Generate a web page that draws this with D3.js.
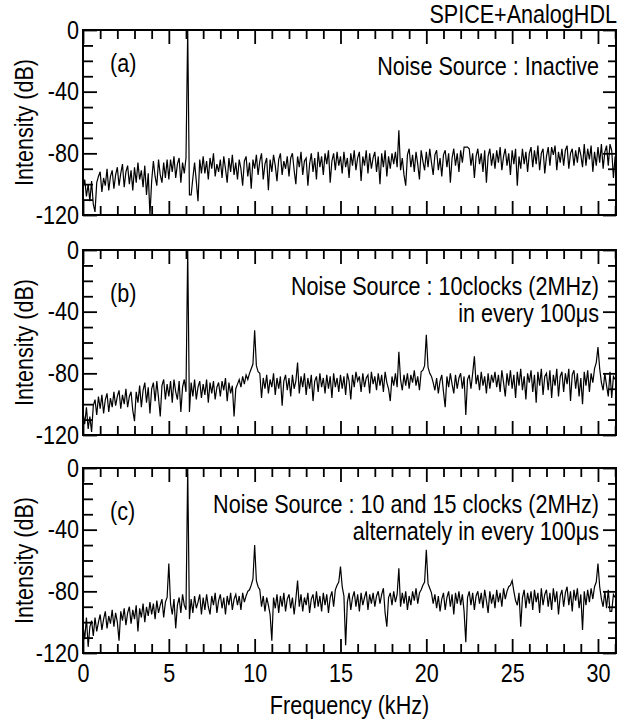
<!DOCTYPE html>
<html>
<head>
<meta charset="utf-8">
<script src="https://cdn.jsdelivr.net/npm/d3@7"></script>
<style>
  body { margin: 0; background: #fff; }
  svg text { font-family: "Liberation Sans", Arial, sans-serif; font-size: 26px; fill: #000; }
</style>
</head>
<body>
<div id="chart"></div>
<script>
/* global d3 */

// FFT bin spacing (kHz); value i of each spectrum sits at i * binWidth
var binWidth = 0.1;

var panelNames = ["(a)", "(b)", "(c)"];
var panelNotes = [
  ["Noise Source : Inactive"],
  ["Noise Source : 10clocks (2MHz)", "in every 100\u03bcs"],
  ["Noise Source : 10 and 15 clocks (2MHz)", "alternately in every 100\u03bcs"]
];
var xTickValues = [0, 5, 10, 15, 20, 25, 30];
var yTickValues = [0, -40, -80, -120];

// (a) noise source inactive, dB
var specA = [
  -102, -97, -108, -100, -111, -98, -113, -118, -99, -95,
  -92, -105, -96, -101, -90, -104, -95, -91, -103, -94,
  -89, -101, -93, -87, -102, -92, -88, -100, -91, -104,
  -89, -99, -86, -97, -91, -102, -88, -107, -93, -120,
  -98, -85, -95, -101, -84, -94, -99, -86, -96, -84,
  -97, -84, -92, -82, -96, -87, -83, -99, -86, -93,
  -83, 0, -107, -107, -96, -86, -98, -111, -84, -93,
  -82, -93, -85, -97, -83, -90, -80, -95, -87, -92,
  -84, -96, -82, -90, -99, -83, -92, -81, -94, -86,
  -97, -84, -90, -101, -85, -82, -95, -86, -103, -84,
  -90, -81, -94, -85, -80, -97, -87, -83, -104, -84,
  -92, -81, -88, -98, -84, -80, -94, -85, -90, -82,
  -95, -83, -80, -91, -100, -82, -89, -79, -94, -85,
  -83, -101, -87, -80, -92, -83, -97, -79, -89, -82,
  -94, -80, -87, -78, -99, -85, -80, -91, -79, -88,
  -82, -93, -79, -89, -83, -96, -80, -88, -78, -91,
  -83, -79, -98, -82, -88, -78, -93, -80, -90, -83,
  -79, -92, -82, -100, -80, -89, -78, -95, -82, -90,
  -80, -87, -79, -89, -65, -91, -83, -94, -101, -81,
  -77, -89, -81, -92, -79, -87, -97, -78, -85, -91,
  -79, -89, -77, -86, -94, -81, -78, -91, -83, -95,
  -81, -78, -89, -80, -99, -83, -77, -88, -80, -92,
  -78, -86, -76, -76, -76, -77, -88, -80, -96, -82,
  -77, -87, -80, -92, -78, -99, -82, -77, -88, -80,
  -90, -78, -86, -76, -91, -82, -77, -88, -80, -94,
  -78, -87, -77, -101, -82, -90, -77, -87, -79, -92,
  -80, -76, -89, -78, -87, -75, -91, -80, -77, -93,
  -82, -76, -88, -76, -81, -75, -91, -79, -86, -77,
  -88, -78, -75, -90, -80, -77, -88, -78, -86, -76,
  -81, -89, -74, -88, -77, -84, -75, -92, -79, -88,
  -76, -86, -74, -90, -79, -75, -88, -74, -78, -96,
  -82
];

// (b) 10 clocks every 100us, dB
var specB = [
  -105, -113, -102, -116, -108, -118, -101, -97, -107, -95,
  -103, -94, -106, -97, -93, -105, -96, -102, -92, -101,
  -95, -91, -103, -94, -100, -90, -102, -95, -92, -104,
  -111, -92, -99, -88, -102, -91, -86, -99, -89, -106,
  -90, -86, -98, -85, -96, -108, -88, -84, -97, -87,
  -95, -85, -99, -84, -92, -97, -85, -105, -89, -84,
  -92, 0, -105, -86, -95, -84, -97, -89, -85, -96,
  -87, -94, -84, -99, -86, -93, -85, -97, -89, -86,
  -95, -85, -91, -83, -98, -86, -93, -88, -108, -90,
  -87, -84, -89, -82, -87, -81, -84, -80, -77, -74,
  -52, -75, -79, -80, -96, -83, -90, -81, -93, -84,
  -89, -80, -94, -83, -90, -82, -101, -85, -81, -91,
  -83, -95, -81, -90, -85, -73, -93, -82, -89, -80,
  -94, -83, -90, -81, -98, -85, -82, -92, -80, -89,
  -83, -93, -81, -90, -82, -96, -80, -89, -83, -92,
  -81, -90, -82, -94, -80, -85, -97, -81, -89, -79,
  -85, -82, -92, -80, -89, -83, -81, -93, -79, -87,
  -82, -91, -80, -88, -81, -92, -79, -86, -90, -98,
  -82, -88, -80, -89, -66, -84, -91, -81, -88, -80,
  -90, -81, -86, -78, -88, -82, -91, -79, -78, -75,
  -55, -76, -80, -82, -86, -91, -83, -93, -85, -81,
  -92, -102, -82, -89, -80, -87, -93, -81, -90, -83,
  -80, -90, -82, -107, -84, -81, -90, -80, -69, -87,
  -81, -91, -79, -88, -82, -93, -80, -90, -81, -86,
  -79, -89, -81, -92, -78, -86, -95, -80, -88, -78,
  -90, -81, -96, -79, -88, -77, -91, -82, -97, -80,
  -86, -78, -92, -81, -99, -79, -88, -77, -94, -82,
  -80, -91, -78, -96, -81, -88, -77, -95, -82, -79,
  -92, -80, -87, -77, -98, -81, -78, -90, -80, -95,
  -83, -100, -79, -88, -78, -92, -80, -86, -77, -73,
  -63, -77, -86, -91, -80, -88, -95, -79, -96, -82,
  -84
];

// (c) 10 and 15 clocks alternately, dB
var specC = [
  -102, -111, -97, -116, -103, -99, -109, -97, -106, -100,
  -95, -105, -98, -93, -104, -96, -101, -92, -103, -94,
  -100, -112, -93, -99, -91, -102, -94, -90, -101, -92,
  -98, -89, -106, -91, -97, -88, -100, -90, -96, -87,
  -95, -88, -98, -86, -94, -89, -85, -97, -87, -84,
  -62, -88, -95, -85, -104, -89, -84, -94, -82, -89,
  -92, 0, -98, -85, -94, -83, -91, -87, -82, -95,
  -84, -92, -82, -90, -95, -83, -89, -81, -94, -86,
  -82, -91, -84, -95, -83, -89, -81, -92, -85, -82,
  -89, -83, -92, -81, -87, -83, -80, -79, -76, -72,
  -50, -73, -77, -79, -90, -83, -93, -84, -89, -95,
  -112, -84, -91, -82, -94, -83, -90, -81, -93, -85,
  -82, -91, -84, -95, -85, -73, -90, -82, -93, -84,
  -89, -81, -94, -85, -82, -91, -80, -90, -83, -93,
  -81, -89, -82, -94, -84, -80, -90, -79, -76, -74,
  -64, -77, -83, -115, -87, -81, -92, -84, -80, -90,
  -82, -93, -81, -89, -84, -80, -92, -82, -88, -81,
  -90, -83, -80, -88, -82, -78, -94, -103, -84, -81,
  -89, -80, -87, -82, -65, -90, -81, -88, -80, -92,
  -83, -89, -80, -86, -78, -88, -81, -79, -76, -74,
  -53, -75, -78, -81, -88, -82, -91, -83, -93, -85,
  -81, -92, -84, -80, -90, -82, -95, -81, -88, -80,
  -89, -82, -93, -113, -84, -80, -89, -81, -92, -83,
  -80, -88, -81, -91, -79, -86, -94, -80, -88, -82,
  -91, -79, -87, -81, -90, -78, -85, -80, -77, -76,
  -73, -80, -86, -89, -81, -103, -84, -79, -91, -81,
  -88, -80, -92, -79, -87, -81, -94, -78, -89, -82,
  -79, -90, -81, -92, -78, -87, -80, -95, -83, -79,
  -90, -81, -77, -89, -80, -93, -79, -86, -78, -91,
  -82, -105, -80, -89, -79, -87, -78, -85, -77, -74,
  -62, -77, -85, -90, -80, -91, -79, -93, -93, -82,
  -84
];

var spectra = [specA, specB, specC];

// layout
var plotLeft = 83, plotRight = 616;
var panelTop = [30, 250, 468];
var panelHeight = 185;
// the original lettering is a condensed sans; squeeze a regular one horizontally
var squeeze = 0.83;

var svg = d3.select("#chart").append("svg")
    .attr("width", 633)
    .attr("height", 725);

var x = d3.scaleLinear()
    .domain([0, 31.05])
    .range([plotLeft, plotRight]);

var xMinor = d3.range(0, 32).filter(function(v) { return v % 5 !== 0; });
var yMinor = d3.range(-110, 0, 10).filter(function(v) { return v % 40 !== 0; });

function addText(parent, tx, ty, str, anchor, rotate) {
  return parent.append("text")
      .attr("transform", "translate(" + tx + "," + ty + ")" + (rotate ? " rotate(-90)" : "") +
            " scale(" + squeeze + ",1)")
      .attr("text-anchor", anchor)
      .text(str);
}

// draws an axis with inward ticks only and no domain line
function tickAxis(g, axis) {
  g.call(axis);
  g.select(".domain").remove();
  g.selectAll(".tick line").attr("stroke", "#000").attr("stroke-width", 1.8);
  g.selectAll(".tick text")
      .attr("font-family", null)
      .attr("font-size", null)
      .attr("fill", "#000")
      .each(function() {
        var t = d3.select(this);
        var tx = +t.attr("x") || 0, ty = +t.attr("y") || 0;
        t.attr("transform", "translate(" + tx + "," + ty + ") scale(" + squeeze + ",1)")
          .attr("x", 0).attr("y", 0);
      });
  g.attr("font-family", null).attr("font-size", null);
}

spectra.forEach(function(values, k) {
  var top = panelTop[k];
  var bottom = top + panelHeight;

  var y = d3.scaleLinear()
      .domain([-120, 0])
      .range([bottom, top]);

  var g = svg.append("g");

  g.append("clipPath")
      .attr("id", "clip" + k)
    .append("rect")
      .attr("x", plotLeft)
      .attr("y", top)
      .attr("width", plotRight - plotLeft)
      .attr("height", panelHeight);

  var line = d3.line()
      .x(function(d, i) { return x(i * binWidth); })
      .y(function(d) { return y(d); });

  g.append("path")
      .datum(values)
      .attr("clip-path", "url(#clip" + k + ")")
      .attr("d", line)
      .attr("fill", "none")
      .attr("stroke", "#000")
      .attr("stroke-width", 1.2);

  // top ticks
  tickAxis(g.append("g").attr("transform", "translate(0," + top + ")"),
    d3.axisTop(x).tickValues(xMinor).tickSize(-9).tickFormat(""));
  tickAxis(g.append("g").attr("transform", "translate(0," + top + ")"),
    d3.axisTop(x).tickValues(xTickValues).tickSize(-14).tickFormat(""));

  // bottom ticks, labels only on the last panel
  tickAxis(g.append("g").attr("transform", "translate(0," + bottom + ")"),
    d3.axisBottom(x).tickValues(xMinor).tickSize(-9).tickFormat(""));
  var bottomMajor = d3.axisBottom(x).tickValues(xTickValues).tickSize(-14).tickPadding(11)
      .tickFormat(function(d) { return String(d); });
  if (k < spectra.length - 1) bottomMajor.tickFormat("");
  tickAxis(g.append("g").attr("transform", "translate(0," + bottom + ")"), bottomMajor);

  // left ticks with labels
  tickAxis(g.append("g").attr("transform", "translate(" + plotLeft + ",0)"),
    d3.axisLeft(y).tickValues(yMinor).tickSize(-10).tickFormat(""));
  tickAxis(g.append("g").attr("transform", "translate(" + plotLeft + ",0)"),
    d3.axisLeft(y).tickValues(yTickValues).tickSize(-14).tickPadding(4)
      .tickFormat(function(d) { return String(d); }));

  // right ticks
  tickAxis(g.append("g").attr("transform", "translate(" + plotRight + ",0)"),
    d3.axisRight(y).tickValues(yMinor).tickSize(-8).tickFormat(""));
  tickAxis(g.append("g").attr("transform", "translate(" + plotRight + ",0)"),
    d3.axisRight(y).tickValues(yTickValues).tickSize(-13).tickFormat(""));

  // frame
  g.append("rect")
      .attr("x", plotLeft)
      .attr("y", top)
      .attr("width", plotRight - plotLeft)
      .attr("height", panelHeight)
      .attr("fill", "none")
      .attr("stroke", "#000")
      .attr("stroke-width", 2);

  // panel letter
  addText(g, 110, top + (k === 0 ? 42 : 52), panelNames[k], "start");

  // noise source note
  panelNotes[k].forEach(function(s, j) {
    addText(g, 599, top + 45 + j * 27, s, "end");
  });

  // y axis title
  addText(g, 33, top + panelHeight / 2, "Intensity (dB)", "middle", true);
});

addText(svg, 617, 23, "SPICE+AnalogHDL", "end");
addText(svg, (plotLeft + plotRight) / 2, 714, "Frequency (kHz)", "middle");
</script>
</body>
</html>
